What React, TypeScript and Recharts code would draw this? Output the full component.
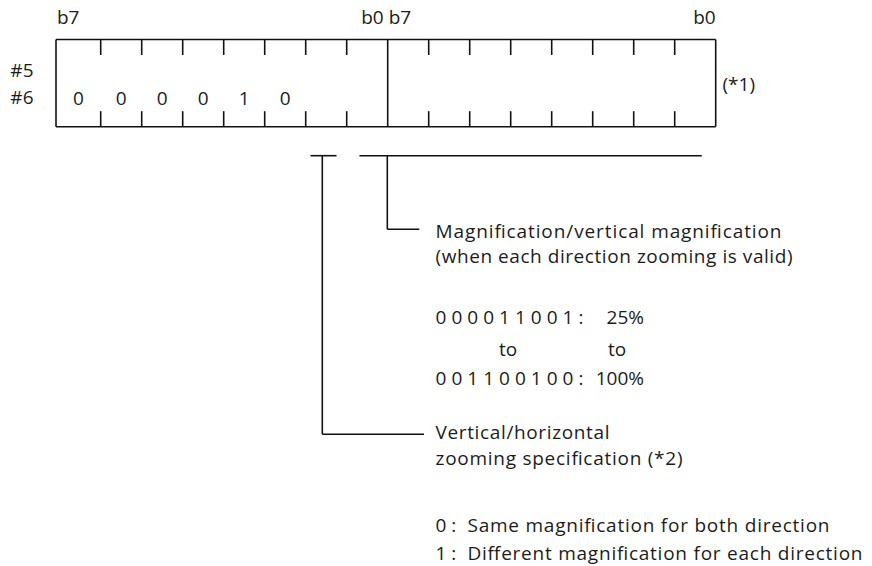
import React from 'react';
import { ComposedChart, XAxis, YAxis, Scatter, ReferenceLine } from 'recharts';

// ---------- content ----------
const byteEdgeLabels = ['b7', 'b0'];
const registerRows = ['#5', '#6'];
const firstByteBits = ['0', '0', '0', '0', '1', '0'];
const noteLabel = '(*1)';
const magnificationHeading = ['Magnification/vertical magnification', '(when each direction zooming is valid)'];
const rangeCodes = ['0 0 0 0 1 1 0 0 1 :', '0 0 1 1 0 0 1 0 0 :'];
const rangePercents = ['25%', '100%'];
const rangeJoin = 'to';
const zoomSpecHeading = ['Vertical/horizontal', 'zooming specification (*2)'];
const zoomSpecCodes = ['0 :', '1 :'];
const zoomSpecMeanings = ['Same magnification for both direction', 'Different magnification for each direction'];

// ---------- layout ----------
const W = 872;
const H = 566;
const INK = '#111';
const TEXT = '#1c1c1c';
const FONT = '"Open Sans", "Liberation Sans", Arial, sans-serif';
const FS = 19;
const SW = 1.6;

const BOX = { left: 56, top: 39.5, bottom: 126.7, grid0: 100.7, pitch: 41, tick: 15.5, bits: 8, bytes: 2 };
const boundaryX = (k: number) => (k === 0 ? BOX.left : BOX.grid0 + (k - 1) * BOX.pitch);
const TOTAL = BOX.bits * BOX.bytes;
const rightX = boundaryX(TOTAL);
const dividerX = boundaryX(BOX.bits);

const TXT_X = 435.5;
const MEAN_X = 467.5;
const headingY = [238.3, 262.7];
const headingLen = [346, 357];
const rangeY = [324.3, 385];
const joinY = 355.5;
const joinX = [508, 617];
const pctRight = 644;
const specY = [439.3, 465];
const specLen = [174, 247];
const choiceY = [532, 560];
const choiceLen = [362, 395];

const leaderY = 155.7;
const shortLeader = { x0: 310.5, x1: 336.5, stem: 322.3, endY: 434.3, endX: 424 };
const longLeader = { x0: 359.5, x1: 701.7, stem: 387.3, endY: 229.3, endX: 419.3 };

type Item = { x: number; y: number; text: string; anchor: 'start' | 'middle' | 'end'; len?: number };

const items: Item[] = [];
// bit edge labels
items.push({ x: BOX.left + 1, y: 24, text: byteEdgeLabels[0], anchor: 'start' });
items.push({ x: dividerX - 4, y: 24, text: byteEdgeLabels[1], anchor: 'end' });
items.push({ x: dividerX + 1, y: 24, text: byteEdgeLabels[0], anchor: 'start' });
items.push({ x: rightX, y: 24, text: byteEdgeLabels[1], anchor: 'end' });
// register rows
registerRows.forEach((r, i) => items.push({ x: 33.5, y: [76.7, 104.3][i], text: r, anchor: 'end' }));
// bit values
firstByteBits.forEach((b, j) =>
  items.push({ x: (boundaryX(j) + boundaryX(j + 1)) / 2, y: 105, text: b, anchor: 'middle' })
);
items.push({ x: 722.5, y: 91, text: noteLabel, anchor: 'start' });
magnificationHeading.forEach((t, i) => items.push({ x: TXT_X, y: headingY[i], text: t, anchor: 'start', len: headingLen[i] }));
rangeCodes.forEach((t, i) => items.push({ x: TXT_X, y: rangeY[i], text: t, anchor: 'start', len: 148 }));
rangePercents.forEach((t, i) => items.push({ x: pctRight, y: rangeY[i], text: t, anchor: 'end' }));
joinX.forEach((x) => items.push({ x, y: joinY, text: rangeJoin, anchor: 'middle' }));
zoomSpecHeading.forEach((t, i) => items.push({ x: TXT_X, y: specY[i], text: t, anchor: 'start', len: specLen[i] }));
zoomSpecCodes.forEach((t, i) => items.push({ x: TXT_X, y: choiceY[i], text: t, anchor: 'start' }));
zoomSpecMeanings.forEach((t, i) => items.push({ x: MEAN_X, y: choiceY[i], text: t, anchor: 'start', len: choiceLen[i] }));

type Seg = [number, number, number, number];
const segs: Seg[] = [];
// box outline
segs.push([BOX.left, BOX.top, rightX, BOX.top]);
segs.push([BOX.left, BOX.bottom, rightX, BOX.bottom]);
segs.push([BOX.left, BOX.top, BOX.left, BOX.bottom]);
segs.push([rightX, BOX.top, rightX, BOX.bottom]);
segs.push([dividerX, BOX.top, dividerX, BOX.bottom]);
for (let k = 1; k < TOTAL; k++) {
  if (k === BOX.bits) continue;
  const x = boundaryX(k);
  segs.push([x, BOX.top, x, BOX.top + BOX.tick]);
  segs.push([x, BOX.bottom - BOX.tick, x, BOX.bottom]);
}
// leaders
segs.push([shortLeader.x0, leaderY, shortLeader.x1, leaderY]);
segs.push([shortLeader.stem, leaderY, shortLeader.stem, shortLeader.endY]);
segs.push([shortLeader.stem, shortLeader.endY, shortLeader.endX, shortLeader.endY]);
segs.push([longLeader.x0, leaderY, longLeader.x1, leaderY]);
segs.push([longLeader.stem, leaderY, longLeader.stem, longLeader.endY]);
segs.push([longLeader.stem, longLeader.endY, longLeader.endX, longLeader.endY]);

const TextShape = (props: any) => {
  const { cx, cy, payload } = props;
  const extra: any = payload.len ? { textLength: payload.len, lengthAdjust: 'spacing' } : {};
  return (
    <text
      x={cx}
      y={cy}
      textAnchor={payload.anchor}
      fontFamily={FONT}
      fontSize={FS}
      fill={TEXT}
      {...extra}
    >
      {payload.text}
    </text>
  );
};

export default function App() {
  return (
    <div style={{ position: 'absolute', left: 0, top: 0, background: '#fff' }}>
      <ComposedChart width={W} height={H} margin={{ top: 0, right: 0, bottom: 0, left: 0 }}>
        <XAxis type="number" dataKey="x" domain={[0, W]} hide allowDataOverflow />
        <YAxis type="number" dataKey="y" domain={[0, H]} reversed hide allowDataOverflow width={0} />
        {segs.map((s, i) => (
          <ReferenceLine
            key={i}
            segment={[{ x: s[0], y: s[1] }, { x: s[2], y: s[3] }]}
            stroke={INK}
            strokeWidth={SW}
            ifOverflow="visible"
          />
        ))}
        <Scatter data={items} shape={TextShape} isAnimationActive={false} />
      </ComposedChart>
    </div>
  );
}
